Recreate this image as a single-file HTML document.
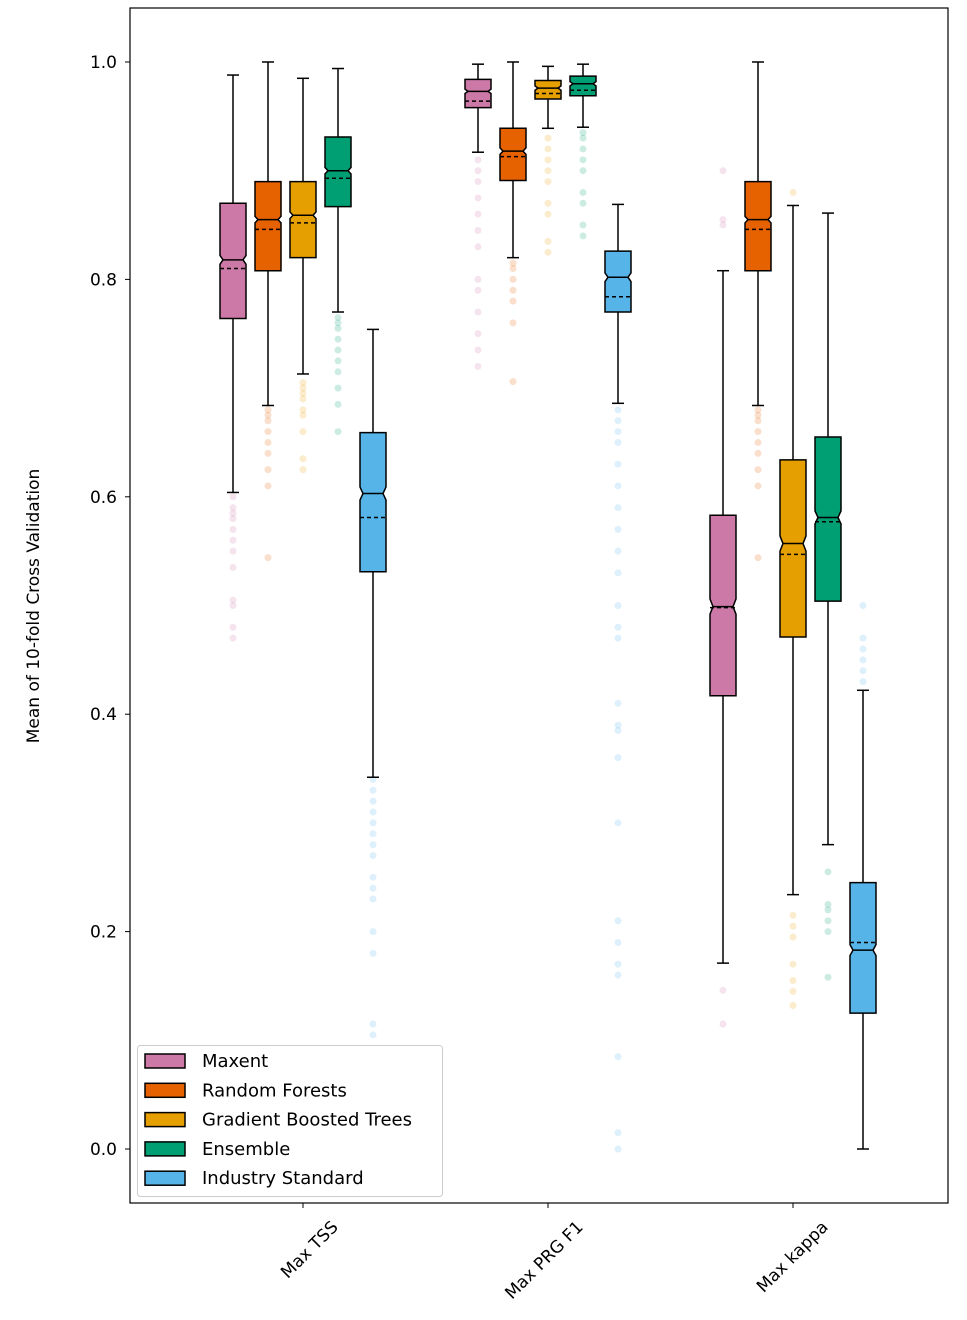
<!DOCTYPE html>
<html><head><meta charset="utf-8"><style>
body{margin:0;background:#fff;}
svg{display:block;font-family:"DejaVu Sans","Liberation Sans",sans-serif;}
</style></head><body>
<svg id="chart" width="967" height="1320">
<rect x="130" y="8" width="818" height="1195" fill="none" stroke="#000" stroke-width="1.2"/>
<g id="yaxis"></g>
<g id="xaxis"></g>
<g id="marks"></g>
<text transform="translate(39,606) rotate(-90)" text-anchor="middle" font-size="17">Mean of 10-fold Cross Validation</text>
<g id="legend"></g>
</svg>
<script>
const metrics=["Max TSS","Max PRG F1","Max kappa"];
const models=["Maxent","Random Forests","Gradient Boosted Trees","Ensemble","Industry Standard"];
const colors=["#CC79A7","#E66100","#E69F00","#009E73","#56B4E9"];
const yTicks=[0.0,0.2,0.4,0.6,0.8,1.0];
// per metric, per model: [whiskerLow, q1, median, q3, whiskerHigh]
const statsTSS=[[0.604,0.764,0.818,0.870,0.988],[0.684,0.808,0.855,0.890,1.0],[0.713,0.820,0.859,0.890,0.985],[0.770,0.867,0.900,0.931,0.994],[0.342,0.531,0.603,0.659,0.754]];
const statsPRG=[[0.917,0.958,0.973,0.984,0.998],[0.820,0.891,0.918,0.939,1.0],[0.939,0.966,0.976,0.983,0.996],[0.940,0.969,0.980,0.987,0.998],[0.686,0.770,0.802,0.826,0.869]];
const statsKappa=[[0.171,0.417,0.499,0.583,0.808],[0.684,0.808,0.855,0.890,1.0],[0.234,0.471,0.557,0.634,0.868],[0.280,0.504,0.581,0.655,0.861],[0.0,0.125,0.183,0.245,0.422]];
const meansTSS=[0.810,0.846,0.852,0.893,0.581];
const meansPRG=[0.964,0.913,0.971,0.974,0.784];
const meansKappa=[0.498,0.846,0.547,0.577,0.190];
const notchTSS=[0.004,0.003,0.003,0.003,0.006];
const notchPRG=[0.002,0.003,0.002,0.002,0.004];
const notchKappa=[0.007,0.003,0.007,0.006,0.005];
const outTSS=[[0.47,0.48,0.50,0.505,0.535,0.55,0.56,0.57,0.58,0.585,0.59,0.60],[0.544,0.61,0.625,0.64,0.65,0.66,0.67,0.675,0.68],[0.625,0.635,0.66,0.675,0.68,0.69,0.695,0.70,0.705],[0.66,0.685,0.70,0.715,0.725,0.735,0.745,0.755,0.76,0.765],[0.105,0.115,0.18,0.20,0.23,0.24,0.25,0.27,0.28,0.29,0.30,0.31,0.32,0.33,0.34]];
const outPRG=[[0.72,0.735,0.75,0.77,0.79,0.80,0.83,0.845,0.86,0.875,0.89,0.90,0.91],[0.706,0.76,0.78,0.79,0.80,0.81,0.815],[0.825,0.835,0.86,0.87,0.89,0.90,0.91,0.92,0.93],[0.84,0.85,0.87,0.88,0.90,0.91,0.92,0.93,0.935],[0.0,0.015,0.085,0.16,0.17,0.19,0.21,0.30,0.36,0.385,0.39,0.41,0.47,0.48,0.50,0.53,0.55,0.57,0.59,0.61,0.63,0.65,0.66,0.67,0.68]];
const outKappa=[[0.115,0.146,0.85,0.855,0.90],[0.544,0.61,0.625,0.64,0.65,0.66,0.67,0.675,0.68],[0.132,0.145,0.155,0.17,0.195,0.205,0.215,0.88],[0.158,0.20,0.21,0.22,0.225,0.255],[0.43,0.44,0.45,0.46,0.47,0.50]];
const allStats=[statsTSS,statsPRG,statsKappa];
const allMeans=[meansTSS,meansPRG,meansKappa];
const allNotch=[notchTSS,notchPRG,notchKappa];
const allOut=[outTSS,outPRG,outKappa];

const NS="http://www.w3.org/2000/svg";
const y=v=>1149-1087*v;
const xc=i=>303+245*i;
const off=j=>(j-2)*35;
const HW=13, NI=3;
function mk(t,a,p){const e=document.createElementNS(NS,t);for(const k in a)e.setAttribute(k,a[k]);p.appendChild(e);return e;}

const ya=document.getElementById('yaxis');
yTicks.forEach(t=>{
  const l=mk('line',{x1:125,x2:130,y1:y(t),y2:y(t),stroke:'#000'},ya);
  
  
  const tx=mk('text',{x:117,y:y(t)+6,'text-anchor':'end','font-size':17},ya);
  tx.textContent=t.toFixed(1);
  
  
});
const xa=document.getElementById('xaxis');
metrics.forEach((m,i)=>{
  const l=mk('line',{x1:xc(i),x2:xc(i),y1:1203,y2:1208,stroke:'#000'},xa);
  
  
  const tx=mk('text',{transform:`translate(${xc(i)+36},1228) rotate(-45)`,'text-anchor':'end','font-size':17},xa);
  tx.textContent=m;
  
  
});
const g=document.getElementById('marks');
allStats.forEach((st,i)=>{
  st.forEach((s,j)=>{
    const cx=xc(i)+off(j);
    const c=colors[j];
    allOut[i][j].forEach(v=>{
      const o=mk('circle',{cx:cx,cy:y(v),r:3.5,fill:c,'fill-opacity':0.2},g);
      
      
    });
    const [lo,q1,md,q3,hi]=s;
    const n=allNotch[i][j];
    const bg=mk('g',{},g);
    
    
    mk('line',{x1:cx,x2:cx,y1:y(hi),y2:y(q3),stroke:'#000','stroke-width':1.5},bg);
    mk('line',{x1:cx,x2:cx,y1:y(q1),y2:y(lo),stroke:'#000','stroke-width':1.5},bg);
    mk('line',{x1:cx-6,x2:cx+6,y1:y(hi),y2:y(hi),stroke:'#000','stroke-width':1.5},bg);
    mk('line',{x1:cx-6,x2:cx+6,y1:y(lo),y2:y(lo),stroke:'#000','stroke-width':1.5},bg);
    const nh=Math.min(md+n,q3), nl=Math.max(md-n,q1);
    const pts=[[cx-HW,y(q1)],[cx-HW,y(nl)],[cx-HW+NI,y(md)],[cx-HW,y(nh)],[cx-HW,y(q3)],[cx+HW,y(q3)],[cx+HW,y(nh)],[cx+HW-NI,y(md)],[cx+HW,y(nl)],[cx+HW,y(q1)]];
    mk('polygon',{points:pts.map(p=>p.join(',')).join(' '),fill:c,stroke:'#000','stroke-width':1.5},bg);
    mk('line',{x1:cx-HW+NI,x2:cx+HW-NI,y1:y(md),y2:y(md),stroke:'#000','stroke-width':1.5},bg);
    const mv=allMeans[i][j];
    mk('line',{x1:cx-HW,x2:cx+HW,y1:y(mv),y2:y(mv),stroke:'#000','stroke-width':1.5,'stroke-dasharray':'4,3'},bg);
  });
});
const lg=document.getElementById('legend');
mk('rect',{x:137.5,y:1045.5,width:305,height:151,rx:3,fill:'#fff','fill-opacity':0.8,stroke:'#ccc'},lg);
models.forEach((m,j)=>{
  const yy=1061+29.3*j;
  const r=mk('rect',{x:145,y:yy-7,width:40,height:14,fill:colors[j],stroke:'#000','stroke-width':1.5},lg);
  
  
  const t=mk('text',{x:202,y:yy+6,'font-size':18},lg);
  t.textContent=m;
  
  
});
</script>
</body></html>
